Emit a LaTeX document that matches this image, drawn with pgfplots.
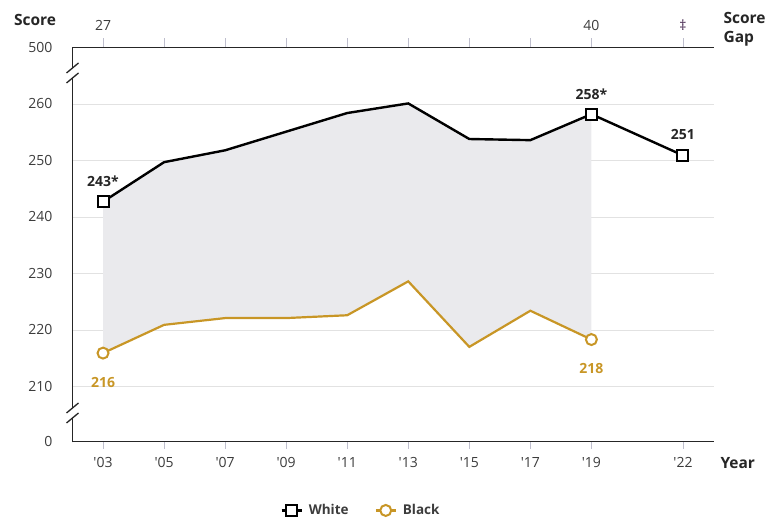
\documentclass[border=0pt]{standalone}
\usepackage{fontspec}
\setmainfont{Open Sans}
\usepackage{pgfplots}
\pgfplotsset{compat=1.18}
\definecolor{gold}{RGB}{200,150,38}
\definecolor{fillgray}{RGB}{234,234,237}
\definecolor{gridgray}{RGB}{226,226,226}
\definecolor{tickgray}{RGB}{190,190,205}
\definecolor{labgray}{RGB}{60,60,60}
\definecolor{dd}{RGB}{70,40,80}
\newcommand{\tl}{\fontsize{14bp}{16bp}\selectfont}
\newcommand{\tb}{\fontsize{15.5bp}{19bp}\selectfont\bfseries}
\begin{document}
\begin{tikzpicture}
\path[use as bounding box] (-72.5bp,-77.5bp) rectangle (696.5bp,441.5bp);
\begin{axis}[
  at={(0,0)}, anchor=south west,
  scale only axis, width=641bp, height=394bp,
  xmin=2002, xmax=2023, ymin=200.25, ymax=270,
  axis line style={draw=none},
  xtick={2003,2005,2007,2009,2011,2013,2015,2017,2019,2022},
  xticklabels={\textquotesingle03,\textquotesingle05,\textquotesingle07,\textquotesingle09,\textquotesingle11,\textquotesingle13,\textquotesingle15,\textquotesingle17,\textquotesingle19,\textquotesingle22},
  xtick pos=lower,
  tick align=outside,
  xtick style={draw=tickgray, line width=0.8bp},
  major tick length=7bp,
  xticklabel style={font=\tl, text=labgray, anchor=north, inner sep=0pt, yshift=-9bp},
  ytick={210,220,230,240,250,260},
  yticklabels={210,220,230,240,250,260},
  extra y ticks={200.25,270},
  extra y tick labels={0,500},
  extra y tick style={grid=none},
  ytick style={draw=none},
  yticklabel style={font=\tl, text=labgray, anchor=east, inner sep=0pt, xshift=-13bp},
  ymajorgrids,
  major grid style={draw=gridgray, line width=0.8bp},
  clip=false,
  legend style={at={(0.45,-0.175)}, anchor=center, draw=none, fill=none,
    font=\fontsize{13.5bp}{15bp}\selectfont\bfseries, text=labgray,
    /tikz/every odd column/.append style={column sep=4bp},
    /tikz/every even column/.append style={column sep=24bp}},
  legend columns=-1,
  legend image code/.code={\draw[#1, mark indices={2}] plot coordinates {(0bp,0bp) (10bp,0bp) (20bp,0bp)};},
]
\addplot[fill=fillgray, draw=none, forget plot] coordinates {
(2003,242.7)(2005,249.7)(2007,251.8)(2009,255.1)(2011,258.4)(2013,260.1)(2015,253.8)(2017,253.6)(2019,258.2)
(2019,218.3)(2017,223.4)(2015,217.0)(2013,228.6)(2011,222.6)(2009,222.1)(2007,222.1)(2005,220.9)(2003,215.9)};
\addplot[black, line width=2.4bp, mark=square*, mark indices={1,9,10},
  mark options={fill=white, draw=black, line width=2bp, solid}, mark size=5.5bp] coordinates {
(2003,242.7)(2005,249.7)(2007,251.8)(2009,255.1)(2011,258.4)(2013,260.1)(2015,253.8)(2017,253.6)(2019,258.2)(2022,250.9)};
\addlegendentry{White}
\addplot[gold, line width=2.2bp, mark=*, mark indices={1,9},
  mark options={fill=white, draw=gold, line width=2bp, solid}, mark size=5.5bp] coordinates {
(2003,215.9)(2005,220.9)(2007,222.1)(2009,222.1)(2011,222.6)(2013,228.6)(2015,217.0)(2017,223.4)(2019,218.3)};
\addlegendentry{Black}
\node[font=\fontsize{14bp}{16bp}\selectfont\bfseries, text=black!85] at (axis cs:2003,242.7) [yshift=20bp] {243*};
\node[font=\fontsize{14bp}{16bp}\selectfont\bfseries, text=black!85] at (axis cs:2019,258.2) [yshift=20bp] {258*};
\node[font=\fontsize{14bp}{16bp}\selectfont\bfseries, text=black!85] at (axis cs:2022,250.9) [yshift=21bp] {251};
\node[font=\fontsize{14bp}{16bp}\selectfont\bfseries, text=gold] at (axis cs:2003,215.9) [yshift=-29bp] {216};
\node[font=\fontsize{14bp}{16bp}\selectfont\bfseries, text=gold] at (axis cs:2019,218.3) [yshift=-29bp] {218};
\end{axis}
\begin{axis}[
  at={(0,0)}, anchor=south west,
  scale only axis, width=641bp, height=394bp,
  xmin=2002, xmax=2023, ymin=200.25, ymax=270,
  axis line style={draw=none},
  hide y axis,
  xtick={2003,2005,2007,2009,2011,2013,2015,2017,2019,2022},
  xticklabels={27,,,,,,,,40,\textcolor{dd}{‡}},
  xtick pos=upper, xticklabel pos=upper,
  tick align=outside,
  xtick style={draw=tickgray, line width=0.8bp},
  major tick length=9bp,
  xticklabel style={font=\tl, text=labgray, anchor=south, inner sep=0pt, yshift=7.5bp},
]
\addplot[draw=none] coordinates {(2003,210)};
\end{axis}
% axis frame lines
\draw[line width=1.5bp, black!85] (0,0) -- (641bp,0);
\draw[line width=1.5bp, black!85] (0,394bp) -- (641bp,394bp);
\draw[line width=1.5bp, black!85] (0,-0.75bp) -- (0,23.5bp);
\draw[line width=1.5bp, black!85] (0,33.5bp) -- (0,363.5bp);
\draw[line width=1.5bp, black!85] (0,373.5bp) -- (0,394.75bp);
\foreach \yy in {23.5,33.5,363.5,373.5}{
  \draw[line width=1.3bp, black!85] (-6bp,\yy bp-5bp) -- (6bp,\yy bp+5bp);
}
% titles
\node[font=\tb, text=black!85] at (-37.5bp,421.5bp) {Score};
\node[font=\tb, text=black!85, anchor=west, align=left] at (647.5bp,412.5bp) {Score\\Gap};
\node[font=\tb, text=black!85, anchor=west] at (644.5bp,-21.5bp) {Year};
\end{tikzpicture}
\end{document}
